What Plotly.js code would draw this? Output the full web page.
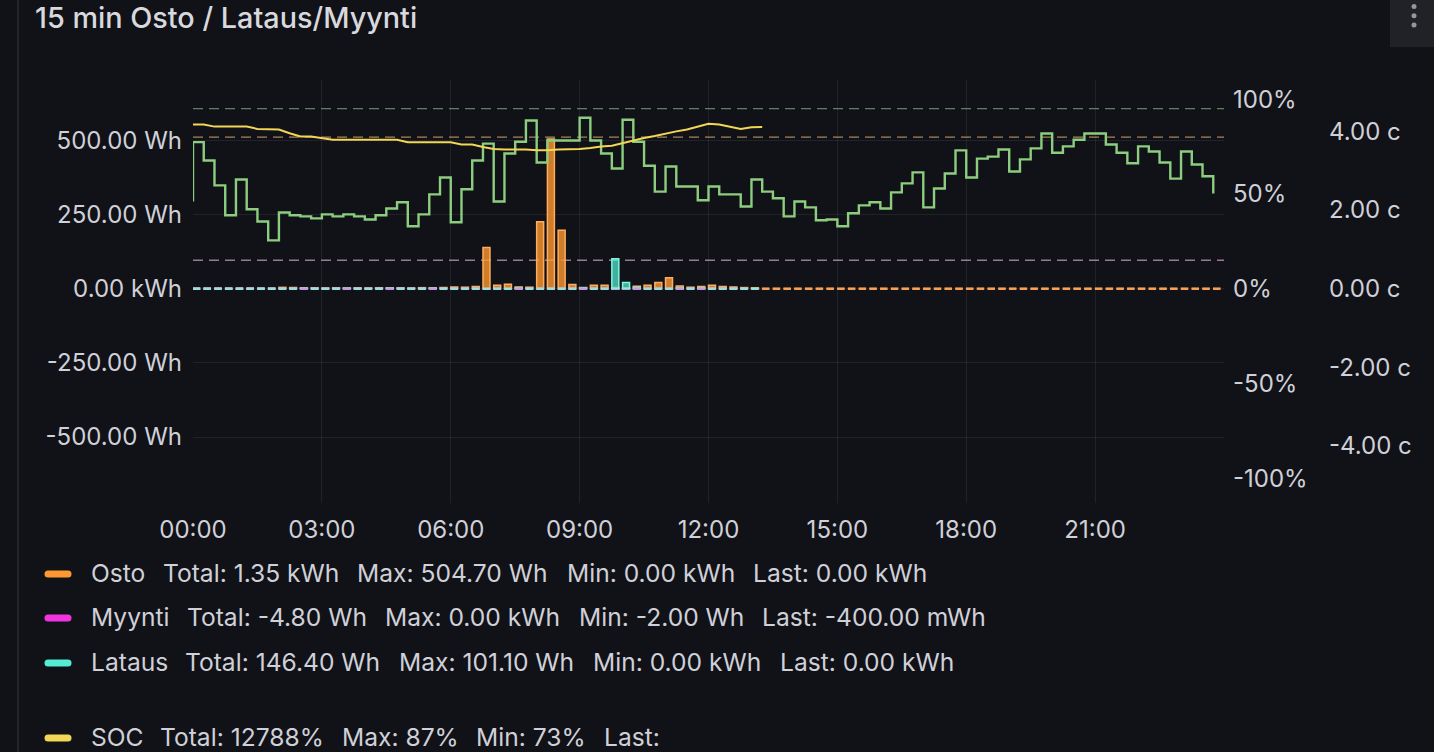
<!DOCTYPE html>
<html><head><meta charset="utf-8">
<script src="https://cdn.plot.ly/plotly-3.0.1.min.js"></script>
<style>html,body{margin:0;padding:0;background:#111217;overflow:hidden}#chart{width:1434px;height:752px}</style>
</head><body><div id="chart"></div>
<script>
// ---------- DATA ----------
const chartTitle = '15 min Osto / Lataus/Myynti';
const timeTickLabels = ['00:00','03:00','06:00','09:00','12:00','15:00','18:00','21:00'];
const whTickVals = [500, 250, 0, -250, -500];
const whTickText = ['500.00 Wh','250.00 Wh','0.00 kWh','-250.00 Wh','-500.00 Wh'];
const pctTickVals = [100, 50, 0, -50, -100];
const pctTickText = ['100%','50%','0%','-50%','-100%'];
const priceTickVals = [4, 2, 0, -2, -4];
const priceTickText = ['4.00 c','2.00 c','0.00 c','-2.00 c','-4.00 c'];

// Osto (Wh) per 15 min slot starting 00:00 (96 slots)
const osto = [0,0,0,0,0,0,0,0,4.5,4.0, 3,3,2,3,2,3,2,3,2.5,3.0,
  2.0,3.5,3.0,4.0,6.0,5.0,7.0,139.0,12.0,15.0, 6.0,5.0,226.0,504.7,197.0,14.0,4.0,12.0,12.0,4.0,
  3.0,8.0,12.0,21.0,37.0,9.0,5.0,7.0,12.0,7.0, 6.0,3.8,3.0,0,0,0,0,0,0,0,
  0,0,0,0,0,0,0,0,0,0, 0,0,0,0,0,0,0,0,0,0,
  0,0,0,0,0,0,0,0,0,0, 0,0,0,0,0,0];
// Myynti (Wh) per 15 min slot starting 00:00
const myynti = [0,0,0,0,0,0,0,0,0,0, 0,0,0,0,0,0,0,0,0,0,
  0,0,0,0,0,0,0,-0.8,0,-0.4, 0,0,0,0,0,0,0,0,0,-2.0,
  -1.2,0,0,0,0,0,0,0,0,0, 0,0,-0.4];
// Lataus (Wh) per 15 min slot starting 00:00
const lataus = [0,0,0,0,0,0,0,0,0,0, 1.5,0,0,0,2.0,0,0,0,2.5,0,
  0,0,2.0,0,0,0,0,0,0,0, 3.0,0,0,0,0,0,3.2,0,0,101.1,
  21.0,4.5,0,0,0,3.0,0,2.6,0,0, 0,0,0];
// SOC (%) per 15 min starting 00:00
const soc = [86.6,86.6,85.5,85.5,85.5,85.5,84.3,84.3,84.0,82.0,
  80.3,80.3,79.5,78.6,78.6,78.6,78.6,78.6,78.6,78.6,
  77.3,77.3,77.3,77.3,77.3,76.1,76.1,74.8,73.7,73.4,
  73.4,73.4,73.0,73.0,73.4,73.4,73.7,74.2,75.0,75.4,
  76.8,78.0,79.5,80.5,81.8,83.0,84.0,85.5,87.0,86.6,
  85.6,84.2,85.2,85.3];
// Spot price (c/kWh) per 15 min, first value is 23:45 of the previous day
const price = [2.25,
  3.73,3.26,2.63,1.87,2.78,2.02,1.71,1.23,1.94,1.87,
  1.84,1.79,1.89,1.84,1.89,1.84,1.76,1.87,2.04,2.20,
  1.59,1.89,2.40,2.83,1.69,2.53,3.26,3.69,2.22,3.44,
  3.74,4.28,3.21,3.77,3.77,3.77,4.35,3.77,3.44,3.06,
  4.30,3.74,3.13,2.47,3.11,2.60,2.60,2.25,2.60,2.40,
  2.40,2.09,2.78,2.47,2.30,1.84,2.22,2.07,1.74,1.76,
  1.59,1.92,2.12,2.20,2.04,2.45,2.68,2.96,2.07,2.55,
  2.93,3.52,2.83,3.31,3.36,3.54,2.98,3.29,3.57,3.95,
  3.46,3.62,3.79,3.95,3.95,3.67,3.46,3.19,3.62,3.49,
  3.21,2.80,3.49,3.16,2.86,2.42];
// SOC thresholds (%)
const thresholdsPct = [95, 80, 15];

const legendNames = ['Osto','Myynti','Lataus','SOC'];
const legendStats = [
  ['Total: 1.35 kWh','Max: 504.70 Wh','Min: 0.00 kWh','Last: 0.00 kWh'],
  ['Total: -4.80 Wh','Max: 0.00 kWh','Min: -2.00 Wh','Last: -400.00 mWh'],
  ['Total: 146.40 Wh','Max: 101.10 Wh','Min: 0.00 kWh','Last: 0.00 kWh'],
  ['Total: 12788%','Max: 87%','Min: 73%','Last:']
];

// ---------- LAYOUT HELPERS ----------
const W = 1434, H = 752;
const PL = 193, PR = 1224, PT = 80, PB = 503;
const plotW = W - PL, plotH = PB - PT;
const xp = X => (X - PL) / plotW;
const yp = Y => (PB - Y) / plotH;

const T0 = Date.UTC(2025, 0, 15);
const STEP = 15 * 60 * 1000;
const BARW = 0.65 * STEP;
const tAt = k => T0 + k * STEP;

const colors = {
  osto: '#ff9830', myynti: '#f035e0', lataus: '#55eed4', soc: '#f2d656', price: '#8ccd7f'
};

const traces = [];
function barTrace(vals, name, fill, line) {
  return {
    type: 'bar', name, x: vals.map((_, k) => tAt(k)), y: vals,
    width: BARW, offset: 0, yaxis: 'y',
    marker: {color: fill, line: {color: line, width: 1.5}},
    hoverinfo: 'skip'
  };
}
function zeroTrace(vals, color) {
  const xs = [], ys = [];
  vals.forEach((v, k) => { if (v === 0) { xs.push(tAt(k) + BARW / 2); ys.push(v); } });
  return {
    type: 'scatter', mode: 'markers', x: xs, y: ys, yaxis: 'y', hoverinfo: 'skip',
    marker: {symbol: 'line-ew-open', size: 5.4, color: color, line: {color: color, width: 2.6}}
  };
}
traces.push(barTrace(osto, 'Osto', 'rgba(255,152,48,0.8)', '#ffad5c'));
traces.push(barTrace(myynti, 'Myynti', 'rgba(240,53,224,0.7)', '#f25ae6'));
traces.push(barTrace(lataus, 'Lataus', 'rgba(85,238,212,0.72)', '#80f5e0'));
traces.push(zeroTrace(osto, 'rgba(250,160,85,0.95)'));
traces.push(zeroTrace(myynti, 'rgba(200,150,230,0.9)'));
traces.push(zeroTrace(lataus, 'rgba(150,232,220,0.85)'));

traces.push({
  type: 'scatter', mode: 'lines', name: 'Hinta', x: price.map((_, i) => tAt(i - 1)), y: price,
  yaxis: 'y2', line: {color: colors.price, width: 2.4, shape: 'hv'}, hoverinfo: 'skip'
});
traces.push({
  type: 'scatter', mode: 'lines', name: 'SOC', x: soc.map((_, k) => tAt(k)), y: soc,
  yaxis: 'y3', line: {color: colors.soc, width: 2}, hoverinfo: 'skip'
});

const gridColor = 'rgba(204,204,220,0.09)';
const tickFont = {family: 'Inter, sans-serif', size: 24, color: '#cfd0d8'};

const shapes = [];
const thrColors = ['#62805e', '#a8845a', '#9c7b90'];
thresholdsPct.forEach((v, i) => shapes.push({
  type: 'line', xref: 'x', yref: 'y3', x0: T0, x1: T0 + 24 * 3600000, y0: v, y1: v,
  line: {color: thrColors[i], width: 1.3, dash: '10px,6px'}, layer: 'below'
}));
// panel left border
shapes.push({type: 'line', xref: 'paper', yref: 'paper', x0: xp(18), x1: xp(18), y0: yp(0), y1: yp(H),
  line: {color: '#2a2c32', width: 1.5}});
// menu button
shapes.push({type: 'rect', xref: 'paper', yref: 'paper', x0: xp(1390), x1: xp(1440), y0: yp(-5), y1: yp(47),
  fillcolor: '#202228', line: {width: 0}});
[6.5, 15.8, 25].forEach(cy => shapes.push({type: 'circle', xref: 'paper', yref: 'paper',
  x0: xp(1411.5), x1: xp(1416.5), y0: yp(cy + 2.5), y1: yp(cy - 2.5), fillcolor: '#95969c', line: {width: 0}}));

// legend
const legendColors = [colors.osto, colors.myynti, colors.lataus, colors.soc];
const legendRowY = [573, 617, 662, 737];
const legendX = [
  [89, 160.7, 355, 565, 751],
  [89, 185, 382.7, 576.7, 760],
  [89, 183.3, 396.7, 591, 778],
  [89, 158.3, 340, 474.3, 601.7]
];
const annotations = [];
legendNames.forEach((nm, r) => {
  const Y = legendRowY[r];
  shapes.push({type: 'path', xref: 'paper', yref: 'paper', xsizemode: 'pixel', ysizemode: 'pixel',
    xanchor: xp(58), yanchor: yp(Y + 1),
    path: 'M-10,-3.5 H10 Q13.5,-3.5 13.5,0 Q13.5,3.5 10,3.5 H-10 Q-13.5,3.5 -13.5,0 Q-13.5,-3.5 -10,-3.5 Z',
    fillcolor: legendColors[r], line: {width: 0}});
  const parts = [nm].concat(legendStats[r]);
  parts.forEach((txt, j) => annotations.push({
    xref: 'paper', yref: 'paper', x: xp(legendX[r][j]), y: yp(Y), xanchor: 'left', yanchor: 'middle',
    text: txt, showarrow: false, font: {family: 'Inter, sans-serif', size: 24.6, color: '#cfd0d8'}
  }));
});

const layout = {
  width: W, height: H,
  paper_bgcolor: '#111217', plot_bgcolor: '#111217',
  margin: {l: PL, r: 0, t: PT, b: H - PB, pad: 0},
  font: {family: 'Inter, sans-serif', color: '#cfd0d8', size: 24},
  showlegend: false, barmode: 'overlay',
  title: {text: chartTitle, font: {family: 'Inter, sans-serif', size: 28.8, color: '#d8d9de', weight: 500},
    x: 35 / W, xref: 'container', xanchor: 'left', y: 1 - 18 / H, yref: 'container', yanchor: 'middle'},
  xaxis: {type: 'date', domain: [0, (PR - PL) / plotW], range: [T0, T0 + 24 * 3600000],
    tickvals: timeTickLabels.map(s => T0 + parseInt(s.slice(0, 2), 10) * 3600000), ticktext: timeTickLabels,
    showgrid: true, gridcolor: gridColor, gridwidth: 1, zeroline: false, showline: false, ticks: '',
    ticklabelstandoff: 10, tickfont: tickFont, fixedrange: true},
  yaxis: {range: [-722.3, 703.4], tickvals: whTickVals, ticktext: whTickText, showgrid: true, gridcolor: gridColor,
    zeroline: false, showline: false, ticks: '', ticklabelstandoff: 10, tickfont: tickFont, fixedrange: true},
  yaxis2: {overlaying: 'y', side: 'right', anchor: 'free', position: (1320 - PL) / plotW,
    range: [-5.453, 5.31], tickvals: priceTickVals, ticktext: priceTickText, showgrid: false,
    zeroline: false, showline: false, ticks: '', ticklabelstandoff: 8, tickfont: tickFont, fixedrange: true},
  yaxis3: {overlaying: 'y', side: 'right', anchor: 'x',
    range: [-113.1, 110.1], tickvals: pctTickVals, ticktext: pctTickText, showgrid: false,
    zeroline: false, showline: false, ticks: '', ticklabelstandoff: 8, tickfont: tickFont, fixedrange: true},
  shapes, annotations
};

Plotly.newPlot('chart', traces, layout, {staticPlot: true, displayModeBar: false});
</script></body></html>
